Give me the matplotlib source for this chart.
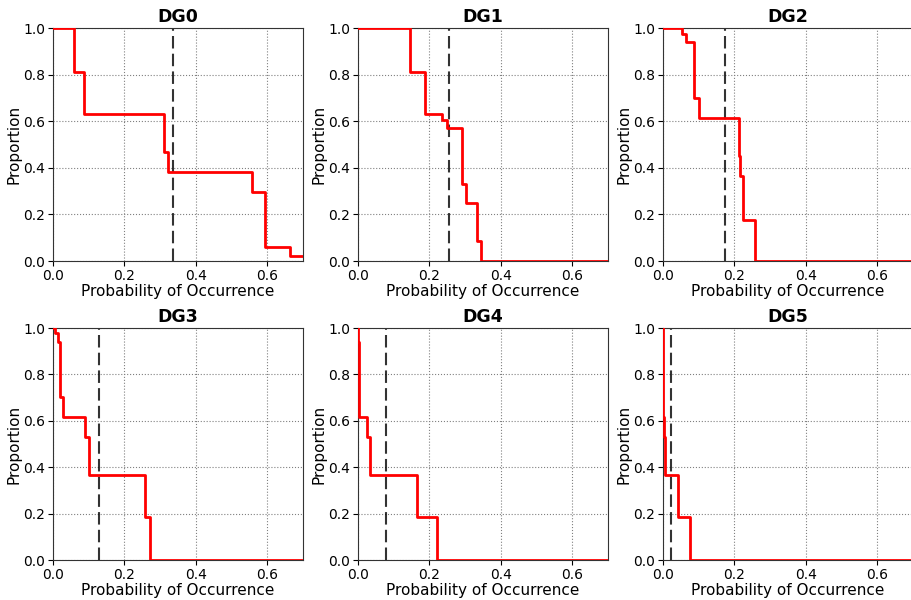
import matplotlib
matplotlib.use("Agg")
import matplotlib.pyplot as plt

titles = ["DG0", "DG1", "DG2", "DG3", "DG4", "DG5"]

dg0_x = [0, 0.059, 0.086, 0.312, 0.321, 0.558, 0.595, 0.663, 0.70]
dg0_y = [1.0, 0.813, 0.633, 0.469, 0.383, 0.297, 0.062, 0.023, 0.023]

dg1_x = [0, 0.146, 0.189, 0.235, 0.250, 0.292, 0.303, 0.333, 0.343, 0.70]
dg1_y = [1.0, 0.813, 0.631, 0.607, 0.570, 0.331, 0.247, 0.085, 0.0, 0.0]

dg2_x = [0, 0.052, 0.064, 0.087, 0.102, 0.213, 0.217, 0.224, 0.259, 0.70]
dg2_y = [1.0, 0.976, 0.938, 0.700, 0.614, 0.452, 0.366, 0.178, 0.0, 0.0]

dg3_x = [0, 0.0065, 0.013, 0.021, 0.027, 0.091, 0.100, 0.258, 0.271, 0.70]
dg3_y = [1.0, 0.977, 0.941, 0.704, 0.616, 0.530, 0.368, 0.185, 0.0, 0.0]

dg4_x = [0, 0.0005, 0.001, 0.0015, 0.004, 0.024, 0.034, 0.1645, 0.221, 0.70]
dg4_y = [1.0, 0.976, 0.940, 0.700, 0.616, 0.530, 0.368, 0.185, 0.0, 0.0]

dg5_x = [0, 0.0003, 0.0006, 0.0009, 0.0012, 0.0015, 0.005, 0.043, 0.0766, 0.70]
dg5_y = [1.0, 0.976, 0.940, 0.700, 0.616, 0.530, 0.368, 0.185, 0.0, 0.0]

mean_lines = [0.3374, 0.256, 0.1748, 0.129, 0.0794, 0.0234]

xticks = [0.0, 0.2, 0.4, 0.6]
yticks = [0.0, 0.2, 0.4, 0.6, 0.8, 1.0]

series = [(dg0_x, dg0_y), (dg1_x, dg1_y), (dg2_x, dg2_y),
          (dg3_x, dg3_y), (dg4_x, dg4_y), (dg5_x, dg5_y)]

fig = plt.figure(figsize=(9.12, 6.0), dpi=100)

lefts = [53 / 912, 358 / 912, 663 / 912]
width = 250 / 912
bottoms = [1 - 261 / 600, 1 - 560 / 600]
heights = [233 / 600, 232 / 600]

for i, (title, (xs, ys), m) in enumerate(zip(titles, series, mean_lines)):
    r, c = divmod(i, 3)
    ax = fig.add_axes([lefts[c], bottoms[r], width, heights[r]])
    ax.step(xs, ys, where="post", color="red", lw=2, zorder=3)
    ax.axvline(m, color="black", ls=(0, (6, 2.5)), lw=1.5, alpha=0.8, zorder=2)
    ax.set_xlim(0, 0.7)
    ax.set_ylim(0, 1.0)
    ax.set_xticks(xticks)
    ax.set_yticks(yticks)
    ax.tick_params(labelsize=10, pad=2)
    ax.grid(True, ls=":", color="gray", lw=0.8)
    for s in ax.spines.values():
        s.set_color("#333333")
    ax.set_title(title, fontsize=12.5, fontweight="bold", pad=4)
    ax.set_xlabel("Probability of Occurrence", fontsize=11, labelpad=1)
    ax.set_ylabel("Proportion", fontsize=11, labelpad=1)

fig.savefig("out.png", dpi=100)
